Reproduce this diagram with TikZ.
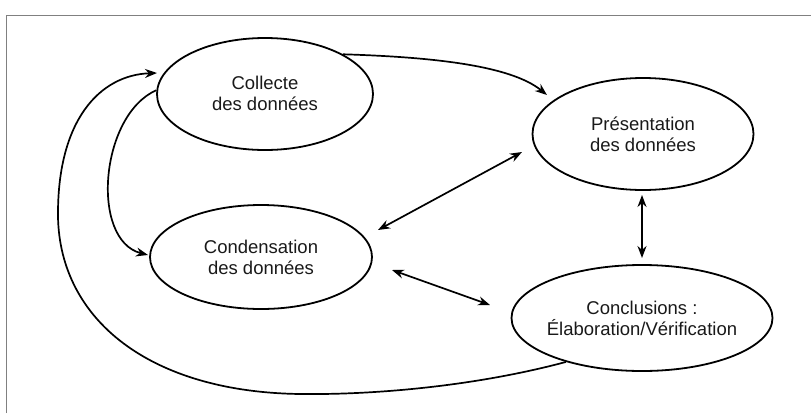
\documentclass[tikz,border=0pt]{standalone}
\usepackage{fontspec}
\setmainfont{Liberation Sans}
\usetikzlibrary{shapes.geometric,arrows.meta}
\begin{document}
\begin{tikzpicture}[x=1pt,y=-1pt,
  bubble/.style={ellipse,draw,line width=1.8pt,inner sep=0pt},
  lbl/.style={align=center,font=\fontsize{18.5}{21}\selectfont,text=black!90},
  con/.style={line width=1.7pt},
  onehead/.style={con,-{Stealth[length=12pt,width=9pt]}},
  twohead/.style={con,{Stealth[length=12pt,width=9pt]}-{Stealth[length=12pt,width=9pt]}},
  frameline/.style={draw=gray,line width=1pt}]
\useasboundingbox (0,0) rectangle (811,413);
\draw[frameline] (6,413) -- (6,15) -- (811,15);

\node[bubble,minimum width=216pt,minimum height=112pt] (coll) at (265,94) {};
\node[lbl] (coll-t) at (265,93) {Collecte\\des données};
\node[bubble,minimum width=221pt,minimum height=112pt] (pres) at (643,134) {};
\node[lbl] (pres-t) at (pres) {Présentation\\des données};
\node[bubble,minimum width=222pt,minimum height=104pt] (cond) at (261,257) {};
\node[lbl] (cond-t) at (cond) {Condensation\\des données};
\node[bubble,minimum width=261pt,minimum height=106pt] (concl) at (642,318) {};
\node[lbl] (concl-t) at (concl) {Conclusions :\\Élaboration/Vérification};

\coordinate (p-in) at (547,95);
\coordinate (c-in) at (148,255);
\coordinate (k-in) at (157,73);
\coordinate (pc-a) at (522,152);
\coordinate (pc-b) at (378,230);
\coordinate (pk-a) at (642,195);
\coordinate (pk-b) at (642,258);
\coordinate (ck-a) at (392,270);
\coordinate (ck-b) at (490,305);

\draw[onehead] (coll.27) .. controls (430,57) and (510,65) .. (p-in);
\draw[onehead] (coll.178) .. controls (100,115) and (90,240) .. (c-in);
\draw[con] (concl.210) .. controls (480,385) and (380,395) .. (300,394)
   .. controls (150,392) and (60,320) .. (58,217);
\draw[onehead] (58,217) .. controls (57,120) and (100,75) .. (k-in);
\draw[twohead] (pc-b) -- (pc-a);
\draw[twohead] (pk-a) -- (pk-b);
\draw[twohead] (ck-a) -- (ck-b);
\end{tikzpicture}
\end{document}
